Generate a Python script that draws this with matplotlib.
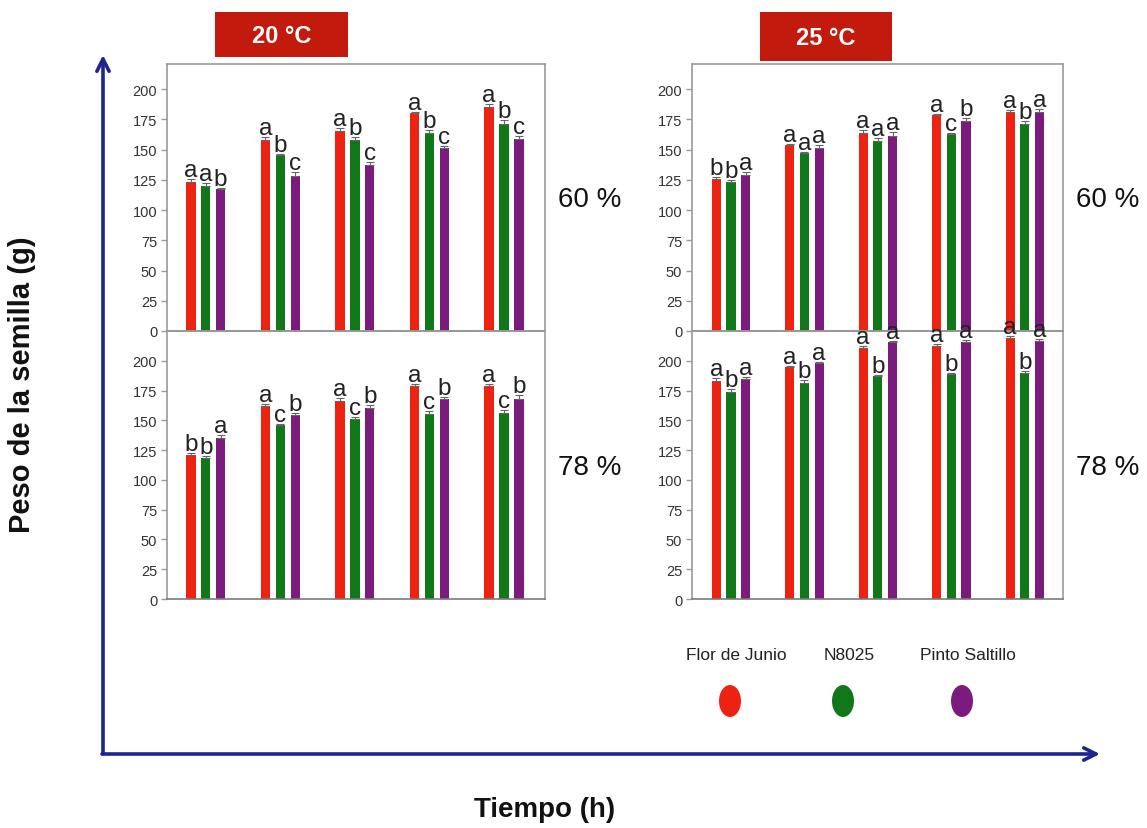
import numpy as np
import matplotlib
matplotlib.use("Agg")
from matplotlib import pyplot as plt
from matplotlib.patches import Ellipse, Rectangle, FancyArrowPatch

plt.rcParams['font.family'] = ['Liberation Sans', 'DejaVu Sans']

# five sampling times (no labels on the x axis)
tiempos = np.arange(5)
variedades = ['Flor de Junio', 'N8025', 'Pinto Saltillo']
colores = ['#ee2211', '#11781a', '#7a1b7d']

# 20 °C, 60 % humedad
t20_h60_flor = [123, 158, 165.5, 180, 185.5]
t20_h60_n8025 = [120, 145.5, 158, 164, 171]
t20_h60_pinto = [117, 128.5, 137, 151, 158.5]
t20_h60_err = [[2.5, 2.5, 2, 1, 2], [2, 1, 2.5, 2, 3.5], [1.5, 3, 2.5, 2, 3]]
t20_h60_letras = [['a', 'a', 'a', 'a', 'a'], ['a', 'b', 'b', 'b', 'b'], ['b', 'c', 'c', 'c', 'c']]

# 20 °C, 78 % humedad
t20_h78_flor = [121, 162, 166, 178.5, 179]
t20_h78_n8025 = [118.5, 146, 151, 155, 156]
t20_h78_pinto = [135.5, 154.5, 160, 167.5, 168]
t20_h78_err = [[1.5, 2, 3, 2, 1.5], [1.5, 1, 2, 2.5, 2.5], [2, 2, 2.5, 2.5, 3]]
t20_h78_letras = [['b', 'a', 'a', 'a', 'a'], ['b', 'c', 'c', 'c', 'c'], ['a', 'b', 'b', 'b', 'b']]

# 25 °C, 60 % humedad
t25_h60_flor = [126, 153.7, 163.3, 178.5, 181.2]
t25_h60_n8025 = [123, 146.8, 157, 162.8, 170.8]
t25_h60_pinto = [128.8, 150.9, 161.4, 173.8, 180.7]
t25_h60_err = [[1, 1, 2.5, 1, 1.5], [1.5, 1.5, 2.5, 1, 2.5], [2.5, 3, 3, 2.5, 3]]
t25_h60_letras = [['b', 'a', 'a', 'a', 'a'], ['b', 'a', 'a', 'c', 'b'], ['a', 'a', 'a', 'b', 'a']]

# 25 °C, 78 % humedad
t25_h78_flor = [183, 195, 210.5, 212, 219]
t25_h78_n8025 = [173.5, 181, 187, 189, 190]
t25_h78_pinto = [185, 198, 215.5, 216, 216.5]
t25_h78_err = [[2.5, 1, 2, 2.5, 1.5], [3, 3, 1, 1, 1.5], [1.5, 1, 1.5, 1.5, 1.5]]
t25_h78_letras = [['a', 'a', 'a', 'a', 'a'], ['b', 'b', 'b', 'b', 'b'], ['a', 'a', 'a', 'a', 'a']]

W, H = 1147, 829
fig = plt.figure(figsize=(W / 100, H / 100), dpi=100)

# full-figure layer in pixel units for arrows, labels and the legend
fondo = fig.add_axes([0, 0, 1, 1])
fondo.set_xlim(0, W)
fondo.set_ylim(H, 0)
fondo.axis('off')


def panel(x0, y0, x1, y1, series, errs, letras, ytop, xlim):
    ax = fig.add_axes([x0 / W, 1 - y1 / H, (x1 - x0) / W, (y1 - y0) / H])
    ancho = 0.125
    for k, (vals, err, lets) in enumerate(zip(series, errs, letras)):
        xs = tiempos + (k - 1) * 0.2
        ax.bar(xs, vals, ancho, color=colores[k], zorder=2)
        ax.errorbar(xs, vals, yerr=[np.zeros(5), err], fmt='none', ecolor='#666666',
                    elinewidth=0.8, capsize=3, capthick=0.8, zorder=3)
        for x, v, e, l in zip(xs, vals, err, lets):
            ax.text(x, v + e + 2.5, l, ha='center', va='baseline', fontsize=17.5,
                    color='#222222', clip_on=False, zorder=5)
    ax.set_xlim(*xlim)
    ax.set_ylim(0, ytop)
    ax.set_yticks(np.arange(0, 201, 25))
    ax.set_xticks([])
    ax.tick_params(axis='y', labelsize=10.5, labelcolor='#333333', color='#999999',
                   length=4, width=1, pad=3)
    for s in ax.spines.values():
        s.set_color('#9a9a9a')
        s.set_linewidth(1.2)
    ax.spines['bottom'].set_color('#7a7a7a')
    ax.patch.set_alpha(0)
    return ax


panel(167, 65, 545, 332, [t20_h60_flor, t20_h60_n8025, t20_h60_pinto],
      t20_h60_err, t20_h60_letras, 220.7, (-0.52, 4.55))
panel(692, 65, 1063, 332, [t25_h60_flor, t25_h60_n8025, t25_h60_pinto],
      t25_h60_err, t25_h60_letras, 220.7, (-0.53, 4.52))
panel(167, 332, 545, 600, [t20_h78_flor, t20_h78_n8025, t20_h78_pinto],
      t20_h78_err, t20_h78_letras, 225, (-0.52, 4.55))
panel(692, 332, 1063, 600, [t25_h78_flor, t25_h78_n8025, t25_h78_pinto],
      t25_h78_err, t25_h78_letras, 225, (-0.53, 4.52))

# temperature headers
for (x0, y0, x1, y1), txt in [((215, 13, 348, 58), '20 °C'), ((760, 13, 892, 62), '25 °C')]:
    fondo.add_patch(Rectangle((x0, y0), x1 - x0, y1 - y0, facecolor='#c21a0c', edgecolor='none'))
    fondo.text((x0 + x1) / 2, (y0 + y1) / 2 + 1, txt, ha='center', va='center',
               fontsize=17, fontweight='bold', color='white')

# humidity labels
for x, y, txt in [(590, 200, '60 %'), (1108, 200, '60 %'), (590, 468, '78 %'), (1108, 468, '78 %')]:
    fondo.text(x, y, txt, ha='center', va='center', fontsize=20, color='#111111')

# blue axes arrows
azul = '#1c2490'
fondo.add_patch(FancyArrowPatch((103, 755), (103, 56), arrowstyle='->', mutation_scale=22,
                                lw=2.6, color=azul, shrinkA=0, shrinkB=0))
fondo.add_patch(FancyArrowPatch((102, 755), (1100, 755), arrowstyle='->', mutation_scale=22,
                                lw=2.6, color=azul, shrinkA=0, shrinkB=0))

fondo.text(22, 385, 'Peso de la semilla (g)', rotation=90, ha='center', va='center',
           fontsize=21, fontweight='bold', color='#111111')
fondo.text(545, 810, 'Tiempo (h)', ha='center', va='center',
           fontsize=20, fontweight='bold', color='#111111')

# legend: names above coloured ovals
for x, nombre, c in zip([736, 849, 968], variedades, colores):
    fondo.text(x, 656, nombre, ha='center', va='center', fontsize=12.5, color='#222222')
    fondo.add_patch(Ellipse((x - 6, 702), 22, 32, facecolor=c, edgecolor='none'))

fig.savefig('out.png', dpi=100)
